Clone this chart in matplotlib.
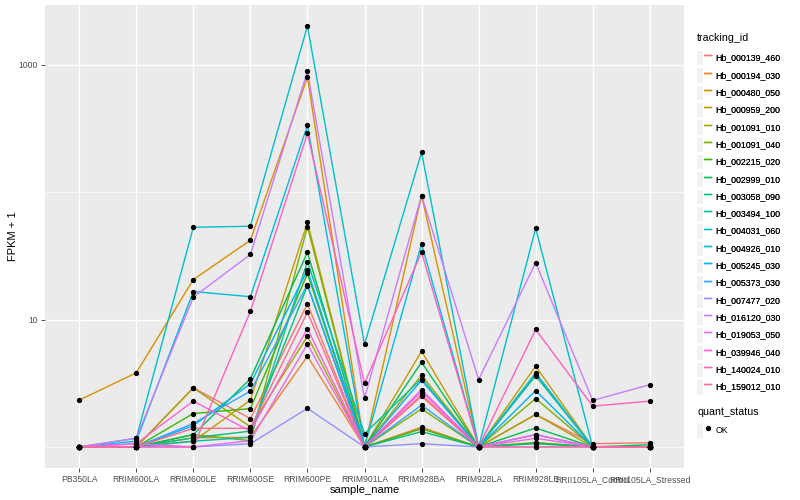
import numpy as np
import matplotlib
matplotlib.use('Agg')
import matplotlib.pyplot as plt
from matplotlib.lines import Line2D
from matplotlib.patches import Patch
from matplotlib.legend_handler import HandlerTuple
from matplotlib.ticker import FixedLocator, NullFormatter

plt.rcParams['font.family'] = ['Liberation Sans', 'DejaVu Sans']

# samples on the x axis
samples = ['PB350LA', 'RRIM600LA', 'RRIM600LE', 'RRIM600SE', 'RRIM600PE', 'RRIM901LA',
           'RRIM928BA', 'RRIM928LA', 'RRIM928LE', 'RRII105LA_Control', 'RRII105LA_Stressed']

tracking_ids = ['Hb_000139_460', 'Hb_000194_030', 'Hb_000480_050', 'Hb_000959_200',
                'Hb_001091_010', 'Hb_001091_040', 'Hb_002215_020', 'Hb_002999_010',
                'Hb_003058_090', 'Hb_003494_100', 'Hb_004031_060', 'Hb_004926_010',
                'Hb_005245_030', 'Hb_005373_030', 'Hb_007477_020', 'Hb_016120_030',
                'Hb_019053_050', 'Hb_039946_040', 'Hb_140024_010', 'Hb_159012_010']

# FPKM + 1 per gene, one value per sample
hb_000139_460 = [1.0, 1.0, 2.91, 1.67, 13.3, 1.0, 2.56, 1.0, 1.80, 1.06, 1.08]
hb_000194_030 = [1.0, 1.0, 1.18, 1.19, 5.15, 1.0, 1.43, 1.0, 1.08, 1.0, 1.0]
hb_000480_050 = [2.33, 3.82, 20.6, 41.9, 800, 1.0, 94, 1.0, 3.7, 1.0, 1.0]
hb_000959_200 = [1.0, 1.0, 1.11, 2.33, 58, 1.0, 5.64, 1.0, 4.3, 1.0, 1.0]
hb_001091_010 = [1.0, 1.0, 2.91, 1.44, 7.4, 1.0, 3.66, 1.0, 1.80, 1.0, 1.0]
hb_001091_040 = [1.0, 1.0, 1.25, 1.12, 53.6, 1.0, 1.99, 1.0, 2.40, 1.0, 1.0]
hb_002215_020 = [1.0, 1.0, 1.83, 2.0, 23, 1.0, 1.39, 1.0, 1.08, 1.0, 1.0]
hb_002999_010 = [1.0, 1.0, 1.25, 3.43, 33.7, 1.0, 4.62, 1.0, 1.41, 1.0, 1.04]
hb_003058_090 = [1.0, 1.0, 1.18, 1.33, 18.5, 1.0, 1.32, 1.0, 1.06, 1.0, 1.0]
hb_003494_100 = [1.0, 1.0, 1.11, 1.19, 28.5, 1.27, 3.44, 1.0, 3.62, 1.0, 1.0]
hb_004031_060 = [1.0, 1.17, 53, 54, 2012, 6.4, 205, 1.0, 52, 1.0, 1.0]
hb_004926_010 = [1.0, 1.11, 16.6, 15.1, 334, 1.0, 39.4, 1.0, 3.82, 1.0, 1.0]
hb_005245_030 = [1.0, 1.0, 1.47, 3.13, 24.5, 1.0, 3.34, 1.0, 2.77, 1.0, 1.0]
hb_005373_030 = [1.0, 1.0, 1.53, 2.74, 18.8, 1.0, 2.13, 1.0, 1.25, 1.0, 1.0]
hb_007477_020 = [1.0, 1.0, 1.0, 1.06, 2.01, 1.0, 1.06, 1.0, 1.0, 1.0, 1.0]
hb_016120_030 = [1.0, 1.17, 15.0, 32.4, 885, 2.41, 94, 3.38, 27.9, 2.32, 3.08]
hb_019053_050 = [1.0, 1.06, 1.0, 1.12, 6.4, 1.0, 2.72, 1.0, 1.17, 1.0, 1.0]
hb_039946_040 = [1.0, 1.06, 2.29, 1.33, 8.5, 1.0, 2.82, 1.0, 1.25, 1.0, 1.0]
hb_140024_010 = [1.0, 1.0, 1.0, 11.6, 289, 3.16, 33.8, 1.0, 8.36, 2.09, 2.29]
hb_159012_010 = [1.0, 1.0, 1.40, 1.40, 11.4, 1.0, 2.50, 1.0, 1.0, 1.0, 1.0]

series = [hb_000139_460, hb_000194_030, hb_000480_050, hb_000959_200, hb_001091_010,
          hb_001091_040, hb_002215_020, hb_002999_010, hb_003058_090, hb_003494_100,
          hb_004031_060, hb_004926_010, hb_005245_030, hb_005373_030, hb_007477_020,
          hb_016120_030, hb_019053_050, hb_039946_040, hb_140024_010, hb_159012_010]

#ggplot default hue palette for 20 groups
colors = ['#F8766D', '#EA8331', '#D89000', '#C09B00', '#A3A500', '#7CAE00', '#39B600',
          '#00BB4E', '#00BF7D', '#00C1A3', '#00BFC4', '#00BAE0', '#00B0F6', '#35A2FF',
          '#9590FF', '#C77CFF', '#E76BF3', '#FA62DB', '#FF62BC', '#FF6C91']

fig = plt.figure(figsize=(8, 5), dpi=100)
ax = fig.add_axes([45/800, 1-468/500, (684-45)/800, (468-5)/500])
ax.set_facecolor('#EBEBEB')
for s in ax.spines.values():
    s.set_visible(False)

x = np.arange(len(samples))
for vals, c in zip(series, colors):
    ax.plot(x, vals, color=c, lw=1.0, zorder=3)
for vals in series:
    ax.plot(x, vals, 'o', color='black', ms=2.8, zorder=4, lw=0)

ax.set_yscale('log')
all_vals = np.log10(np.concatenate([np.array(v, dtype=float) for v in series]))
lo, hi = all_vals.min(), all_vals.max()
pad = 0.05*(hi - lo)
ax.set_ylim(10**(lo - pad), 10**(hi + pad))
ax.set_xlim(-0.6, len(samples) - 0.4)

ax.yaxis.set_major_locator(FixedLocator([10, 1000]))
ax.yaxis.set_minor_locator(FixedLocator([1, 100]))
ax.yaxis.set_minor_formatter(NullFormatter())
ax.set_yticklabels(['10', '1000'])
ax.set_xticks(x)
ax.set_xticklabels(samples)

ax.grid(which='major', color='white', lw=1.0, zorder=0)
ax.grid(which='minor', axis='y', color='white', lw=0.5, zorder=0)
ax.set_axisbelow(True)
ax.tick_params(which='major', length=3, width=0.6, color='#333333', labelcolor='#4D4D4D',
               labelsize=6.2, pad=2)
ax.tick_params(which='minor', length=0)

ax.set_xlabel('sample_name', fontsize=8, labelpad=1)
ax.set_ylabel('FPKM + 1', fontsize=8, labelpad=0.5)

# colour legend (title drawn separately to get the ggplot spacing)
fig.text(697/800, 1-38/500, 'tracking_id', fontsize=7.7, va='center', ha='left')
handles = [(Patch(facecolor='#F2F2F2', edgecolor='white', lw=0.8),
            Line2D([], [], color=c, lw=1.0)) for c in colors]
leg1 = fig.legend(handles, tracking_ids, loc='upper left',
                  bbox_to_anchor=(0.862, 0.912), frameon=False, fontsize=6.3,
                  handlelength=1.8, handleheight=2.3, labelspacing=0.24,
                  handletextpad=0.45, borderpad=0.2,
                  handler_map={tuple: HandlerTuple(ndivide=None)})
fig.add_artist(leg1)

# quant_status legend
fig.text(697/800, 1-411.7/500, 'quant_status', fontsize=7.7, va='center', ha='left')
ok_handle = (Patch(facecolor='#F2F2F2', edgecolor='white', lw=0.8),
             Line2D([], [], marker='o', color='black', ms=2.8, lw=0))
fig.legend([ok_handle], ['OK'], loc='upper left',
           bbox_to_anchor=(0.862, 1-417/500), frameon=False, fontsize=6.3,
           handlelength=1.8, handleheight=2.3, handletextpad=0.45, borderpad=0.2,
           handler_map={tuple: HandlerTuple(ndivide=None)})

fig.savefig('out.png', dpi=100)
